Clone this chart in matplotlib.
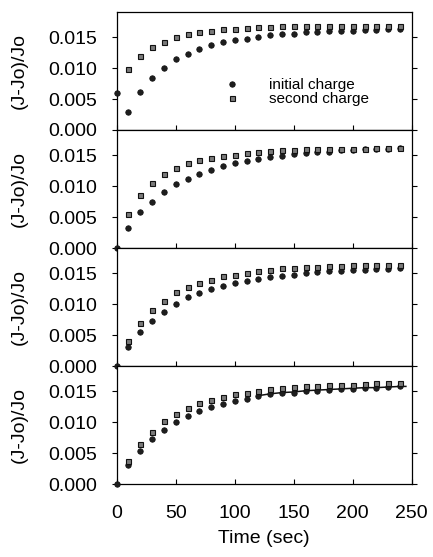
import numpy as np
import matplotlib
matplotlib.use("Agg")
import matplotlib.pyplot as plt

plt.rcParams['font.family'] = ['Liberation Sans', 'DejaVu Sans']

# time axis (sec)
t = [10, 20, 30, 40, 50, 60, 70, 80, 90, 100, 110, 120,
     130, 140, 150, 160, 170, 180, 190, 200, 210, 220, 230, 240]

# panel 1
p1_initial_t = [0] + t
p1_initial = [0.0060, 0.0029, 0.0061, 0.0084, 0.0101, 0.0115, 0.0123, 0.0131, 0.0137,
              0.0142, 0.0145, 0.0148, 0.0150, 0.0153, 0.0155, 0.0156, 0.0158,
              0.0159, 0.0160, 0.0161, 0.0161, 0.0162, 0.0162, 0.0163, 0.0164]
p1_second = [0.0098, 0.0120, 0.0134, 0.0143, 0.0150, 0.0155, 0.0158, 0.0161, 0.0163,
             0.0164, 0.0165, 0.0166, 0.0167, 0.0168, 0.0168, 0.0169, 0.0169,
             0.0169, 0.0169, 0.0169, 0.0169, 0.0169, 0.0169, 0.0169]

# panel 2
p2_initial_t = [0] + t
p2_initial = [0.0, 0.0032, 0.0058, 0.0075, 0.0090, 0.0103, 0.0112, 0.0120, 0.0127,
              0.0133, 0.0137, 0.0141, 0.0144, 0.0147, 0.0149, 0.0152, 0.0154,
              0.0155, 0.0156, 0.0158, 0.0159, 0.0160, 0.0161, 0.0161, 0.0162]
p2_second = [0.0055, 0.0086, 0.0105, 0.0119, 0.0130, 0.0137, 0.0142, 0.0146, 0.0149,
             0.0151, 0.0154, 0.0155, 0.0157, 0.0158, 0.0159, 0.0160, 0.0160,
             0.0161, 0.0161, 0.0161, 0.0161, 0.0162, 0.0162, 0.0162]

# panel 3
p3_initial_t = [0] + t
p3_initial = [0.0, 0.0031, 0.0055, 0.0073, 0.0088, 0.0100, 0.0111, 0.0118, 0.0124,
              0.0130, 0.0134, 0.0137, 0.0141, 0.0144, 0.0146, 0.0148, 0.0150,
              0.0152, 0.0153, 0.0154, 0.0155, 0.0156, 0.0157, 0.0157, 0.0158]
p3_second = [0.0040, 0.0070, 0.0091, 0.0106, 0.0119, 0.0128, 0.0134, 0.0140, 0.0145,
             0.0148, 0.0151, 0.0154, 0.0156, 0.0158, 0.0159, 0.0160, 0.0161,
             0.0162, 0.0162, 0.0163, 0.0163, 0.0164, 0.0164, 0.0164]

# panel 4
p4_initial_t = [0] + t
p4_initial = [0.0, 0.0030, 0.0054, 0.0073, 0.0088, 0.0100, 0.0110, 0.0118, 0.0124,
              0.0130, 0.0134, 0.0138, 0.0142, 0.0145, 0.0147, 0.0148, 0.0150,
              0.0151, 0.0152, 0.0153, 0.0154, 0.0155, 0.0156, 0.0157, 0.0158]
p4_second = [0.0038, 0.0065, 0.0085, 0.0102, 0.0114, 0.0123, 0.0131, 0.0136, 0.0141,
             0.0145, 0.0147, 0.0150, 0.0154, 0.0155, 0.0157, 0.0158, 0.0159,
             0.0160, 0.0161, 0.0161, 0.0162, 0.0163, 0.0163, 0.0164]
# fitted curve drawn over the later part of panel 4
p4_fit_t = [120, 130, 140, 150, 160, 170, 180, 190, 200, 210, 220, 230, 240, 245]
p4_fit = [0.0143, 0.0146, 0.0148, 0.0149, 0.0151, 0.0152, 0.0153, 0.0154,
          0.0155, 0.0156, 0.0156, 0.0157, 0.0158, 0.0158]

y_ticks = [0.000, 0.005, 0.010, 0.015]
x_ticks = [0, 50, 100, 150, 200, 250]

panels = [
    (p1_initial_t, p1_initial, p1_second),
    (p2_initial_t, p2_initial, p2_second),
    (p3_initial_t, p3_initial, p3_second),
    (p4_initial_t, p4_initial, p4_second),
]

fig, axes = plt.subplots(4, 1, figsize=(4.33, 5.57), dpi=100, sharex=True)
fig.subplots_adjust(left=0.2695, right=0.951, top=0.9785, bottom=0.131, hspace=0)

for i, (ax, (ti, yi, ys)) in enumerate(zip(axes, panels)):
    ax.plot(ti, yi, 'o', ms=3.9, mfc='#1e1e1e', mec='#111111', mew=0.6,
            clip_on=False, zorder=3, label='initial charge')
    ax.plot(t, ys, 's', ms=3.6, mfc='#7a7a7a', mec='#111111', mew=0.8,
            clip_on=False, zorder=3, label='second charge')
    ax.set_xlim(0, 250)
    ax.set_ylim(0, 0.0191)
    ax.set_yticks(y_ticks)
    ax.set_yticklabels([f"{v:.3f}" for v in y_ticks])
    ax.set_xticks(x_ticks)
    ax.tick_params(axis='y', which='both', direction='out', length=3.5, width=0.8,
                   right=True, labelsize=14, pad=10.5)
    ax.tick_params(axis='x', which='both', direction='in', length=3.5, width=0.8,
                   labelsize=14, pad=15)
    for s in ax.spines.values():
        s.set_linewidth(0.9)
    ax.set_ylabel("(J-Jo)/Jo", fontsize=14)
    ax.yaxis.set_label_coords(-0.30, 0.5)
    if i < 3:
        ax.tick_params(axis='x', labelbottom=False)

axes[3].plot(p4_fit_t, p4_fit, '-', color='#111111', lw=1.1, zorder=2)

leg = axes[0].legend(loc='center left', bbox_to_anchor=(0.345, 0.32), frameon=False,
                     fontsize=11, handlelength=0.8, handletextpad=2.0,
                     labelspacing=0.0, borderpad=0)

axes[3].set_xlabel("Time (sec)", fontsize=14, labelpad=6)

fig.savefig("out.png", dpi=100)
